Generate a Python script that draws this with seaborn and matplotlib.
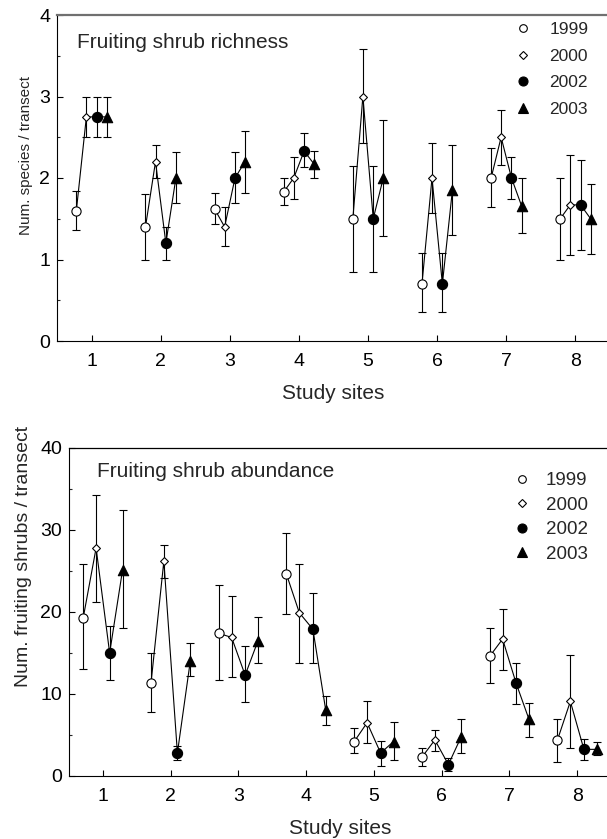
import pandas as pd
import matplotlib
matplotlib.use("Agg")
import matplotlib.pyplot as plt
from matplotlib.lines import Line2D
from matplotlib.ticker import MultipleLocator
import seaborn as sns

sites = [1, 2, 3, 4, 5, 6, 7, 8]
years = ["1999", "2000", "2002", "2003"]

# fruiting shrub richness (mean, lower and upper end of bar)
rich_1999 = [1.6, 1.4, 1.62, 1.83, 1.5, 0.7, 2.0, 1.5]
rich_1999_lo = [1.36, 1.0, 1.44, 1.67, 0.85, 0.35, 1.64, 1.0]
rich_1999_hi = [1.84, 1.8, 1.81, 2.0, 2.15, 1.08, 2.37, 2.0]
rich_2000 = [2.75, 2.2, 1.4, 2.0, 3.0, 2.0, 2.5, 1.67]
rich_2000_lo = [2.5, 2.0, 1.16, 1.74, 2.43, 1.57, 2.16, 1.05]
rich_2000_hi = [3.0, 2.4, 1.65, 2.26, 3.58, 2.43, 2.84, 2.28]
rich_2002 = [2.75, 1.2, 2.0, 2.33, 1.5, 0.7, 2.0, 1.67]
rich_2002_lo = [2.5, 1.0, 1.69, 2.13, 0.85, 0.35, 1.74, 1.12]
rich_2002_hi = [3.0, 1.4, 2.32, 2.55, 2.15, 1.08, 2.26, 2.22]
rich_2003 = [2.75, 2.0, 2.2, 2.17, 2.0, 1.85, 1.66, 1.5]
rich_2003_lo = [2.5, 1.69, 1.82, 2.0, 1.29, 1.3, 1.33, 1.07]
rich_2003_hi = [3.0, 2.32, 2.58, 2.33, 2.71, 2.4, 2.0, 1.93]

# fruiting shrub abundance
abun_1999 = [19.3, 11.3, 17.4, 24.6, 4.2, 2.3, 14.6, 4.4]
abun_1999_lo = [13.0, 7.8, 11.7, 19.7, 2.8, 1.2, 11.3, 1.75]
abun_1999_hi = [25.8, 15.0, 23.3, 29.6, 5.8, 3.45, 18.0, 7.0]
abun_2000 = [27.8, 26.2, 16.9, 19.9, 6.5, 4.4, 16.7, 9.1]
abun_2000_lo = [21.2, 24.2, 12.1, 13.8, 4.0, 3.05, 12.9, 3.4]
abun_2000_hi = [34.3, 28.2, 21.9, 25.8, 9.1, 5.6, 20.4, 14.7]
abun_2002 = [15.0, 2.8, 12.3, 17.9, 2.8, 1.4, 11.3, 3.25]
abun_2002_lo = [11.7, 1.95, 9.0, 13.8, 1.2, 0.65, 8.8, 1.95]
abun_2002_hi = [18.3, 3.7, 15.8, 22.3, 4.3, 2.15, 13.8, 4.5]
abun_2003 = [25.1, 14.0, 16.5, 8.0, 4.2, 4.8, 6.9, 3.25]
abun_2003_lo = [18.1, 12.2, 13.8, 6.2, 1.95, 2.8, 4.7, 2.55]
abun_2003_hi = [32.4, 16.2, 19.4, 9.8, 6.6, 7.0, 8.9, 4.2]

sns.set_style("ticks")
plt.rcParams['font.family'] = ['Liberation Sans', 'DejaVu Sans']

# marker look per year: marker, size, face
marks = {"1999": ("o", 44, "white"), "2000": ("D", 16, "white"),
         "2002": ("o", 54, "black"), "2003": ("^", 56, "black")}
leg_marks = {"1999": ("o", 5.5, "white"), "2000": ("D", 3.6, "white"),
             "2002": ("o", 6.5, "black"), "2003": ("^", 6.5, "black")}


def make_frame(means, los, his, offsets):
    rows = []
    for yr, m, lo, hi, off in zip(years, means, los, his, offsets):
        for s, v, a, b in zip(sites, m, lo, hi):
            rows.append(dict(site=s, year=yr, x=s + off, val=v, lo=a, hi=b))
    return pd.DataFrame(rows)


def draw_panel(ax, d):
    ax.errorbar(d.x, d.val, yerr=[d.val - d.lo, d.hi - d.val], fmt='none',
                ecolor='black', elinewidth=0.8, capsize=2.6, capthick=0.8, zorder=2)
    sns.lineplot(data=d, x='x', y='val', units='site', estimator=None, sort=False,
                 color='black', lw=0.8, ax=ax, legend=False, zorder=3)
    for yr in years:
        mk, sz, fc = marks[yr]
        sns.scatterplot(data=d[d.year == yr], x='x', y='val', marker=mk, s=sz,
                        color=fc, edgecolor='black', linewidth=0.8, ax=ax, zorder=4)


def style_axes(ax, ymax, ystep, topcol, toplw):
    ax.set_xlim(0.5, 8.5)
    ax.set_ylim(0, ymax)
    ax.set_xticks(sites)
    ax.set_yticks(range(0, ymax + 1, ystep))
    ax.tick_params(direction='in', length=4, width=0.8, labelsize=14, pad=5, colors='black')
    ax.tick_params(axis='x', pad=8.5)
    ax.tick_params(which='minor', direction='in', length=2.5, width=0.8)
    ax.spines['right'].set_visible(False)
    for sp in ['left', 'bottom']:
        ax.spines[sp].set_color('black')
        ax.spines[sp].set_linewidth(0.8)
    ax.spines['top'].set_color(topcol)
    ax.spines['top'].set_linewidth(toplw)
    ax.set_xlabel("Study sites", fontsize=15, labelpad=10)


def legend_handles():
    hs = []
    for yr in years:
        mk, ms, fc = leg_marks[yr]
        hs.append(Line2D([], [], ls='none', marker=mk, markersize=ms, markerfacecolor=fc,
                         markeredgecolor='black', markeredgewidth=0.8, label=yr))
    return hs


fig = plt.figure(figsize=(6.07, 8.39), dpi=100)
W, H = 607, 839

# top panel
ax1 = fig.add_axes([57 / W, 1 - 341 / H, 553 / W, 326 / H])
d1 = make_frame([rich_1999, rich_2000, rich_2002, rich_2003],
                [rich_1999_lo, rich_2000_lo, rich_2002_lo, rich_2003_lo],
                [rich_1999_hi, rich_2000_hi, rich_2002_hi, rich_2003_hi],
                [-0.22, -0.075, 0.075, 0.22])
draw_panel(ax1, d1)
style_axes(ax1, 4, 1, '#707070', 1.6)
ax1.yaxis.set_minor_locator(MultipleLocator(0.5))
ax1.set_ylabel("Num. species / transect", fontsize=11)
ax1.yaxis.set_label_coords(-0.043, 0.57)
ax1.text(0.036, 0.917, "Fruiting shrub richness", transform=ax1.transAxes,
         fontsize=15, va='center', ha='left')
ax1.legend(handles=legend_handles(), loc='upper left', frameon=False, fontsize=12.5,
           handlelength=1.0, handletextpad=1.05, labelspacing=0.66, borderpad=0,
           borderaxespad=0, bbox_to_anchor=(514 / W, 1 - 22 / H), bbox_transform=fig.transFigure)

# bottom panel
ax2 = fig.add_axes([69 / W, 1 - 776 / H, 542 / W, 328 / H])
d2 = make_frame([abun_1999, abun_2000, abun_2002, abun_2003],
                [abun_1999_lo, abun_2000_lo, abun_2002_lo, abun_2003_lo],
                [abun_1999_hi, abun_2000_hi, abun_2002_hi, abun_2003_hi],
                [-0.29, -0.1, 0.1, 0.29])
draw_panel(ax2, d2)
style_axes(ax2, 40, 10, 'black', 0.9)
ax2.yaxis.set_minor_locator(MultipleLocator(5))
ax2.set_ylabel("Num. fruiting shrubs / transect", fontsize=14)
ax2.yaxis.set_label_coords(-0.068, 0.67)
ax2.text(0.052, 0.927, "Fruiting shrub abundance", transform=ax2.transAxes,
         fontsize=15, va='center', ha='left')
ax2.legend(handles=legend_handles(), loc='upper left', frameon=False, fontsize=13.5,
           handlelength=1.0, handletextpad=0.75, labelspacing=0.4, borderpad=0,
           borderaxespad=0, bbox_to_anchor=(513 / W, 1 - 472 / H), bbox_transform=fig.transFigure)

fig.savefig("out.png", dpi=100)
